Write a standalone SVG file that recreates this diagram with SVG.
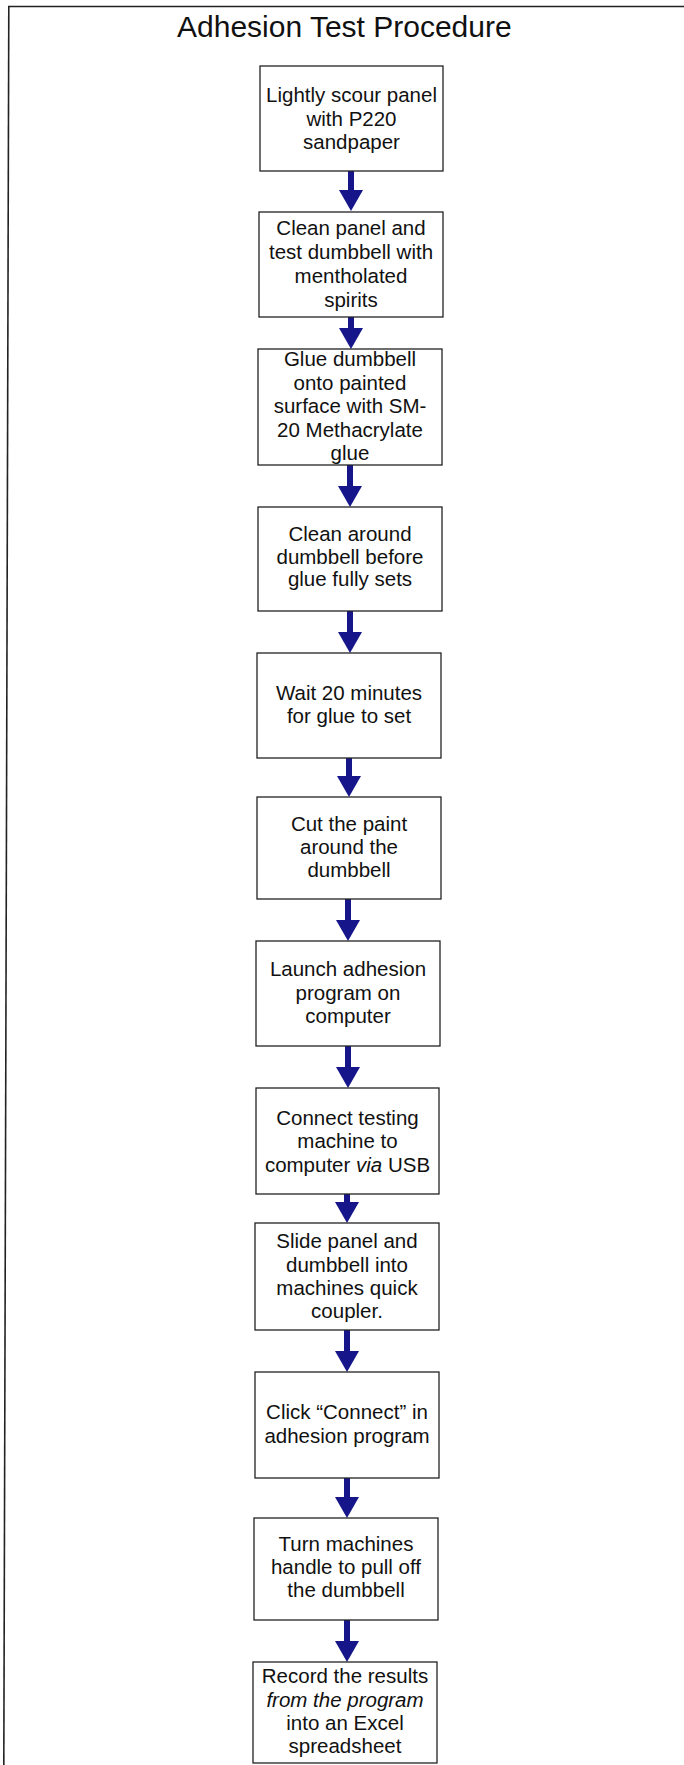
<svg xmlns="http://www.w3.org/2000/svg" width="684" height="1765" viewBox="0 0 684 1765">
<style>
.box{fill:#fff;stroke:#222;stroke-width:1.3}
.t{font-family:"Liberation Sans",Arial,sans-serif;font-size:20.5px;text-anchor:middle;fill:#111}
.title{font-family:"Liberation Sans",Arial,sans-serif;font-size:30px;fill:#111}
.frame{fill:none;stroke:#222;stroke-width:1.6}
.arr{stroke:#16168a;stroke-width:6;fill:none;marker-end:url(#ah)}
.i{font-style:italic}
</style>
<defs>
<marker id="ah" markerUnits="userSpaceOnUse" markerWidth="21" markerHeight="24" refX="0" refY="12" orient="auto">
<path d="M0,0 L21,12 L0,24 Z" fill="#16168a"/>
</marker>
</defs>
<rect width="684" height="1765" fill="#fff"/>
<g id="frame">
<line class="frame" x1="8" y1="6.5" x2="684" y2="6.5"/>
<line class="frame" x1="8.8" y1="6" x2="3.8" y2="1765"/>
</g>
<text class="title" x="177" y="37">Adhesion Test Procedure</text>
<g id="connectors">
<line class="arr" x1="351" y1="171" x2="351" y2="190"/>
<line class="arr" x1="351" y1="317" x2="351" y2="328"/>
<line class="arr" x1="350" y1="465" x2="350" y2="486"/>
<line class="arr" x1="350" y1="611" x2="350" y2="632"/>
<line class="arr" x1="349" y1="758" x2="349" y2="776"/>
<line class="arr" x1="348" y1="899" x2="348" y2="920"/>
<line class="arr" x1="348" y1="1046" x2="348" y2="1067"/>
<line class="arr" x1="347" y1="1194" x2="347" y2="1202"/>
<line class="arr" x1="347" y1="1330" x2="347" y2="1351"/>
<line class="arr" x1="347" y1="1478" x2="347" y2="1497"/>
<line class="arr" x1="347" y1="1620" x2="347" y2="1641"/>
</g>
<g id="n1"><rect class="box" x="260" y="66" width="183" height="105"/>
<text class="t" x="351.5" y="102">Lightly scour panel</text>
<text class="t" x="351.5" y="125.5">with P220</text>
<text class="t" x="351.5" y="149">sandpaper</text></g>
<g id="n2"><rect class="box" x="259" y="212" width="184" height="105"/>
<text class="t" x="351" y="235">Clean panel and</text>
<text class="t" x="351" y="259">test dumbbell with</text>
<text class="t" x="351" y="283">mentholated</text>
<text class="t" x="351" y="307">spirits</text></g>
<g id="n3"><rect class="box" x="258" y="349" width="184" height="116"/>
<text class="t" x="350" y="366">Glue dumbbell</text>
<text class="t" x="350" y="390">onto painted</text>
<text class="t" x="350" y="413">surface with SM-</text>
<text class="t" x="350" y="437">20 Methacrylate</text>
<text class="t" x="350" y="460">glue</text></g>
<g id="n4"><rect class="box" x="258" y="507" width="184" height="104"/>
<text class="t" x="350" y="541">Clean around</text>
<text class="t" x="350" y="564">dumbbell before</text>
<text class="t" x="350" y="586">glue fully sets</text></g>
<g id="n5"><rect class="box" x="257" y="653" width="184" height="105"/>
<text class="t" x="349" y="700">Wait 20 minutes</text>
<text class="t" x="349" y="723">for glue to set</text></g>
<g id="n6"><rect class="box" x="257" y="797" width="184" height="102"/>
<text class="t" x="349" y="831">Cut the paint</text>
<text class="t" x="349" y="854">around the</text>
<text class="t" x="349" y="877">dumbbell</text></g>
<g id="n7"><rect class="box" x="256" y="941" width="184" height="105"/>
<text class="t" x="348" y="976">Launch adhesion</text>
<text class="t" x="348" y="999.5">program on</text>
<text class="t" x="348" y="1023">computer</text></g>
<g id="n8"><rect class="box" x="256" y="1088" width="183" height="106"/>
<text class="t" x="347.5" y="1125">Connect testing</text>
<text class="t" x="347.5" y="1148">machine to</text>
<text class="t" x="347.5" y="1171.5">computer <tspan class="i">via</tspan> USB</text></g>
<g id="n9"><rect class="box" x="255" y="1223" width="184" height="107"/>
<text class="t" x="347" y="1248">Slide panel and</text>
<text class="t" x="347" y="1272">dumbbell into</text>
<text class="t" x="347" y="1295">machines quick</text>
<text class="t" x="347" y="1318">coupler.</text></g>
<g id="n10"><rect class="box" x="255" y="1372" width="184" height="106"/>
<text class="t" x="347" y="1419">Click “Connect” in</text>
<text class="t" x="347" y="1443">adhesion program</text></g>
<g id="n11"><rect class="box" x="254" y="1518" width="184" height="102"/>
<text class="t" x="346" y="1551">Turn machines</text>
<text class="t" x="346" y="1574">handle to pull off</text>
<text class="t" x="346" y="1597">the dumbbell</text></g>
<g id="n12"><rect class="box" x="253" y="1662" width="184" height="101"/>
<text class="t" x="345" y="1683">Record the results</text>
<text class="t i" x="345" y="1707">from the program</text>
<text class="t" x="345" y="1730">into an Excel</text>
<text class="t" x="345" y="1753">spreadsheet</text></g>
</svg>
